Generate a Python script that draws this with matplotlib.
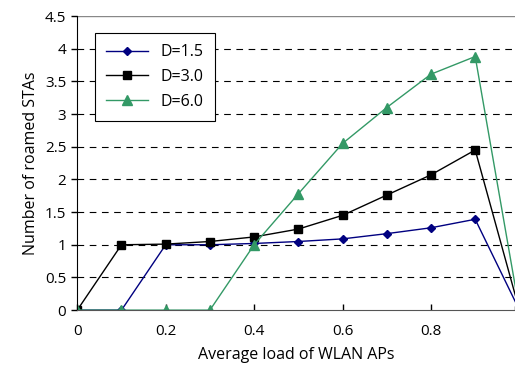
import numpy as np
import matplotlib.pyplot as plt

x = [0, 0.1, 0.2, 0.3, 0.4, 0.5, 0.6, 0.7, 0.8, 0.9, 1.0]
d15 = [0, 0, 1.0, 1.0, 1.02, 1.05, 1.09, 1.17, 1.26, 1.39, 0]
d30 = [0, 1.0, 1.01, 1.05, 1.12, 1.24, 1.45, 1.76, 2.07, 2.45, 0]
d60 = [0, 0, 0, 0, 1.0, 1.78, 2.55, 3.1, 3.61, 3.88, 0]
labels = ["D=1.5", "D=3.0", "D=6.0"]

plt.rcParams['font.family'] = ['Open Sans', 'DejaVu Sans']

fig = plt.figure(figsize=(5.15, 3.81), dpi=100)
ax = fig.add_axes([0.150, 0.186, 0.850, 0.772])

ax.plot(x, d15, color='#000080', marker='D', markersize=4.5, lw=1, label=labels[0])
ax.plot(x, d30, color='black', marker='s', markersize=5.5, lw=1, label=labels[1])
ax.plot(x, d60, color='#339966', marker='^', markersize=6.5, lw=1, label=labels[2])

ax.set_xlim(0, 0.99)
ax.set_ylim(0, 4.5)
ax.set_xticks([0, 0.2, 0.4, 0.6, 0.8])
ax.set_xticklabels(['0', '0.2', '0.4', '0.6', '0.8'])
ax.set_yticks(np.arange(0, 4.51, 0.5))
ax.set_yticklabels(['0', '0.5', '1', '1.5', '2', '2.5', '3', '3.5', '4', '4.5'])
ax.tick_params(labelsize=11, length=4, width=1)
ax.tick_params(axis='x', direction='in', pad=10)
ax.tick_params(axis='y', direction='out', pad=4)

for v in np.arange(0.5, 4.5, 0.5):
    ax.axhline(v, color='black', ls=(0, (6, 5)), lw=0.8, zorder=0)
ax.axhline(4.5, color='#888888', lw=1, zorder=0)

ax.spines['top'].set_visible(False)
ax.spines['right'].set_visible(False)
ax.spines['bottom'].set_color('#555555')

ax.set_xlabel('Average load of WLAN APs', fontsize=11.5, labelpad=6)
ax.set_ylabel('Number of roamed STAs', fontsize=11.5)

leg = ax.legend(loc='upper left', bbox_to_anchor=(0.041, 0.942), borderaxespad=0,
                fontsize=11.5, fancybox=False, edgecolor='black', framealpha=1,
                handlelength=2.6, borderpad=0.7, labelspacing=0.55)
leg.get_frame().set_linewidth(0.8)

fig.savefig('out.png', dpi=100)
